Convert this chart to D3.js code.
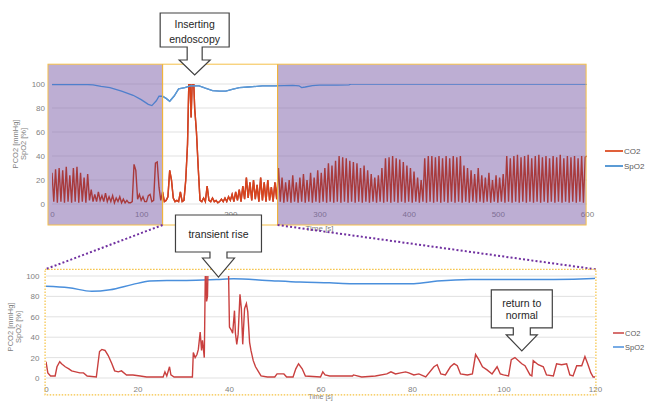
<!DOCTYPE html>
<html>
<head>
<meta charset="utf-8">
<script src="https://cdn.jsdelivr.net/npm/d3@7"></script>
<style>
body { margin: 0; background: #fff; }
svg { font-family: "Liberation Sans", Arial, sans-serif; }
.axis text { fill: #7f7f7f; font-size: 8px; }
.title { fill: #7f7f7f; font-size: 7.5px; }
.legend text { fill: #595959; font-size: 8px; }
.callout text { fill: #262626; font-size: 10.5px; text-anchor: middle; }
</style>
</head>
<body>
<div id="chart"></div>
<script>
// ---- data ----
var yTicks = [0, 20, 40, 60, 80, 100];
var topXTicks = [0, 100, 200, 300, 400, 500, 600];
var botXTicks = [0, 20, 40, 60, 80, 100, 120];

// top chart, CO2 every 2 s from 0 to 600 s
var topCo2Step = 2;
var topCo2 = [
  26, 2, 29, 1, 30, 2, 28, 1, 31, 2,
  24, 1, 30, 2, 31, 1, 26, 2, 22, 1,
  25, 3, 12, 2, 8, 2, 10, 3, 7, 2,
  9, 2, 6, 2, 7, 1, 5, 2, 6, 1,
  4, 1, 3, 1, 1, 2, 33, 28, 4, 8,
  3, 6, 2, 2, 7, 8, 2, 3, 34, 35,
  14, 3, 10, 2, 3, 6, 28, 20, 5, 2,
  3, 2, 10, 2, 3, 20, 50, 120, 72, 120,
  80, 60, 30, 3, 2, 5, 2, 15, 3, 2,
  5, 2, 3, 1, 2, 4, 2, 5, 2, 6,
  3, 8, 2, 10, 3, 12, 2, 15, 4, 22,
  5, 18, 3, 20, 4, 16, 2, 22, 3, 18,
  2, 20, 3, 14, 2, 18, 4, 30, 2, 22,
  1, 18, 2, 20, 1, 24, 2, 18, 1, 22,
  2, 25, 1, 20, 2, 26, 1, 22, 2, 28,
  1, 26, 2, 30, 1, 34, 2, 32, 1, 36,
  2, 40, 1, 39, 2, 38, 1, 36, 2, 35,
  1, 34, 2, 30, 1, 32, 2, 28, 1, 25,
  2, 22, 1, 24, 2, 30, 1, 38, 2, 39,
  1, 40, 2, 38, 1, 37, 2, 35, 1, 32,
  2, 30, 1, 27, 2, 22, 1, 20, 2, 38,
  1, 40, 2, 40, 1, 39, 2, 40, 1, 38,
  2, 40, 1, 38, 2, 40, 1, 39, 2, 40,
  1, 32, 2, 30, 1, 28, 2, 25, 1, 30,
  2, 24, 1, 22, 2, 26, 1, 20, 2, 24,
  1, 22, 2, 25, 1, 40, 2, 38, 1, 40,
  2, 41, 1, 39, 2, 40, 1, 41, 2, 38,
  1, 40, 2, 41, 1, 39, 2, 40, 1, 38,
  2, 40, 1, 39, 2, 41, 1, 38, 2, 40,
  1, 39, 2, 40, 1, 38, 2, 40, 1, 39,
  40
];

var topSpo2Time = [0, 20, 40, 46, 55, 65, 78, 91, 100, 108, 112, 117, 120, 124, 128, 132, 137, 142, 149, 155, 165, 172, 180, 188, 195, 202, 210, 220, 236, 250, 270, 277, 280, 284, 292, 300, 320, 333, 336, 400, 500, 600];
var topSpo2Val = [99.5, 99.5, 99.5, 99.3, 98, 97, 94, 90.6, 87, 83, 82, 86, 89.8, 89.8, 88, 85.6, 90, 96, 97, 98.5, 98.4, 96.5, 94.5, 94, 94, 95.5, 97, 97.5, 98.4, 98.5, 98.8, 98.5, 97, 97.5, 98.7, 99, 99, 99.2, 100, 100, 100, 100];

// bottom chart (0-120 s zoom), CO2 as [time, value]
var botCo2 = [
  [0, 16], [0.4, 5], [1, 2], [2, 2], [2.4, 11], [3, 16], [3.4, 14], [4.2, 11], [5, 9], [5.6, 7],
  [6.5, 6], [7.4, 5], [8.2, 5], [9, 2], [11, 1], [11.7, 26], [12.2, 28], [12.9, 27], [13.6, 22], [14.4, 14],
  [15, 7], [15.8, 6], [16.5, 7], [17.6, 3], [19, 3], [20.6, 2], [22, 1], [25.6, 1], [26, 6], [26.4, 2],
  [27, 11], [27.3, 3], [28, 1], [31.5, 1], [32, 1], [32.2, 25], [32.6, 20], [33, 23], [33.3, 28], [33.7, 45],
  [34, 27], [34.2, 37], [34.6, 20], [34.9, 130], [35.1, 75], [35.3, 80], [35.5, 130], [39.8, 130], [40.1, 50], [40.5, 47],
  [40.8, 44], [41.2, 66], [41.4, 44], [41.7, 33], [42, 43], [42.4, 82], [42.7, 68], [43, 33], [43.4, 68], [43.8, 73],
  [44.1, 65], [44.5, 35], [44.8, 27], [45.3, 17], [45.8, 11], [46.6, 5], [47, 2], [48.4, 1], [50, 1], [50.5, 4],
  [52, 4], [52.6, 1], [54, 1], [54.6, 9], [55.2, 14], [56, 9], [56.7, 2], [60, 1], [60.5, 6], [61, 3],
  [62, 2], [67, 2], [67.2, 3], [69, 1], [72, 2], [74.5, 4], [75.4, 6], [76.4, 4], [77.5, 5], [78.6, 6],
  [79.3, 5], [80.4, 3], [81.5, 4], [83, 1], [84.8, 11], [85.5, 13], [86.3, 4], [87.3, 3], [88.4, 11], [89.2, 14],
  [89.9, 12], [90.6, 4], [92.1, 3], [93.2, 4], [93.9, 23], [94.6, 18], [95.4, 11], [96.4, 8], [97.5, 4], [98.6, 11],
  [99.3, 4], [100, 3], [101.1, 2], [101.7, 18], [102.5, 20], [104, 14], [104.7, 12], [105.8, 3], [106.2, 2], [106.5, 17],
  [107.6, 13], [108.7, 11], [109.4, 3], [110.9, 2], [111.6, 14], [112.7, 13], [113.8, 14], [114.5, 3], [115.2, 2], [116, 12],
  [117.1, 12], [117.8, 21], [118.4, 14], [119.1, 5], [119.6, 1], [120, 1]
];

var botSpo2Time = [0, 5, 10, 14, 19, 22.7, 26.4, 30.7, 37.3, 41, 48.2, 55.5, 62, 67, 74.5, 80.4, 85.5, 92.8, 100, 111, 119.6, 120];
var botSpo2Val = [90, 88.5, 85, 86.5, 91.8, 95, 95.7, 95.7, 96.6, 97.3, 95.7, 94, 93.3, 92.5, 92.5, 92.5, 95, 96.6, 96.6, 96.6, 97.6, 97.8];

// shaded (purple) and highlighted (white) time ranges on the top chart
var shadeRanges = [[-4.5, 124], [253, 599]];
var whiteRange = [124, 253];

var callouts = [
  { chart: 'top', t: 160, v: 107.5, lines: ['Inserting', 'endoscopy'] },
  { chart: 'bot', t: 37.7, v: 99, lines: ['transient rise'] },
  { chart: 'bot', t: 104, v: 26.5, lines: ['return to', 'normal'] }
];

// ---- setup ----
var width = 645, height = 401;

var svg = d3.select('#chart').append('svg')
  .attr('width', width)
  .attr('height', height);

var defs = svg.append('defs');

var xTop = d3.scaleLinear().domain([0, 600]).range([52, 587]);
var yTop = d3.scaleLinear().domain([0, 100]).range([204, 84]);
var xBot = d3.scaleLinear().domain([0, 120]).range([46, 595]);
var yBot = d3.scaleLinear().domain([0, 100]).range([378, 276]);

function clipRect(id, x0, x1, y0, y1) {
  defs.append('clipPath').attr('id', id)
    .append('rect')
    .attr('x', x0).attr('y', y0)
    .attr('width', x1 - x0).attr('height', y1 - y0);
}

clipRect('topClip', xTop(0), xTop(600), yTop(100), yTop(-10));
clipRect('topWhite', xTop(whiteRange[0]), xTop(whiteRange[1]), yTop(100), yTop(-10));
clipRect('botClip', xBot(0), xBot(120), yBot(100), yBot(-10));

var topCo2Data = topCo2.map((v, i) => [i * topCo2Step, v]);
var topSpo2Data = topSpo2Time.map((t, i) => [t, topSpo2Val[i]]);
var botSpo2Data = botSpo2Time.map((t, i) => [t, botSpo2Val[i]]);

///////////////////////////////////////////////////////////////
// top chart
///////////////////////////////////////////////////////////////

var topG = svg.append('g');

topG.selectAll('.grid')
  .data(yTicks)
  .enter()
  .append('line')
  .attr('x1', xTop(0)).attr('x2', xTop(600))
  .attr('y1', d => yTop(d)).attr('y2', d => yTop(d))
  .attr('stroke', '#d9d9d9')
  .attr('stroke-width', 0.8);

var yAxisTop = topG.append('g')
  .attr('class', 'axis')
  .attr('transform', 'translate(' + xTop(0) + ',0)')
  .call(d3.axisLeft(yTop).tickValues(yTicks).tickSize(0).tickPadding(7));
yAxisTop.select('.domain').remove();

var xAxisTop = topG.append('g')
  .attr('class', 'axis')
  .attr('transform', 'translate(0,' + yTop(0) + ')')
  .call(d3.axisBottom(xTop).tickValues(topXTicks).tickSize(0).tickPadding(7.5));
xAxisTop.select('.domain').remove();

topG.append('text')
  .attr('class', 'title')
  .attr('x', xTop(300)).attr('y', 231)
  .attr('text-anchor', 'middle')
  .style('font-size', '8px')
  .text('Time [s]');

topG.append('text')
  .attr('class', 'title')
  .attr('transform', 'translate(18,' + yTop(50) + ') rotate(-90)')
  .attr('text-anchor', 'middle')
  .text('PCO2 [mmHg]');
topG.append('text')
  .attr('class', 'title')
  .attr('transform', 'translate(26,' + yTop(50) + ') rotate(-90)')
  .attr('text-anchor', 'middle')
  .text('SpO2 [%]');

// purple overlays
topG.selectAll('.shade')
  .data(shadeRanges)
  .enter()
  .append('rect')
  .attr('x', d => xTop(d[0]))
  .attr('width', d => xTop(d[1]) - xTop(d[0]))
  .attr('y', yTop(116.5))
  .attr('height', yTop(-17.5) - yTop(116.5))
  .attr('fill', '#7b5ea7')
  .attr('fill-opacity', 0.5);

var lineTop = d3.line().x(d => xTop(d[0])).y(d => yTop(d[1]));

// lines: muted colour under purple, bright colour in the white window
topG.append('path').datum(topCo2Data)
  .attr('d', lineTop).attr('clip-path', 'url(#topClip)')
  .attr('fill', 'none').attr('stroke', '#a83a3c').attr('stroke-width', 1.4);
topG.append('path').datum(topCo2Data)
  .attr('d', lineTop).attr('clip-path', 'url(#topWhite)')
  .attr('fill', 'none').attr('stroke', '#d9431b').attr('stroke-width', 1.4);
topG.append('path').datum(topSpo2Data)
  .attr('d', lineTop).attr('clip-path', 'url(#topClip)')
  .attr('fill', 'none').attr('stroke', '#4f7fcc').attr('stroke-width', 1.3);
topG.append('path').datum(topSpo2Data)
  .attr('d', lineTop).attr('clip-path', 'url(#topWhite)')
  .attr('fill', 'none').attr('stroke', '#5b9bd5').attr('stroke-width', 1.3);

// yellow frame
topG.append('rect')
  .attr('x', xTop(-4.5)).attr('y', yTop(116.5))
  .attr('width', xTop(599) - xTop(-4.5))
  .attr('height', yTop(-17.5) - yTop(116.5))
  .attr('fill', 'none').attr('stroke', '#f5c04a').attr('stroke-width', 1);
topG.selectAll('.divider')
  .data(whiteRange)
  .enter()
  .append('line')
  .attr('x1', d => xTop(d)).attr('x2', d => xTop(d))
  .attr('y1', yTop(116.5)).attr('y2', yTop(-17.5))
  .attr('stroke', '#f0b43c').attr('stroke-width', 1.2);

// legend
var topLegend = svg.append('g').attr('class', 'legend');
[['CO2', '#e0603a', 151], ['SpO2', '#5b9bd5', 166]].forEach(d => {
  topLegend.append('line')
    .attr('x1', 605).attr('x2', 623).attr('y1', d[2]).attr('y2', d[2])
    .attr('stroke', d[1]).attr('stroke-width', 2);
  topLegend.append('text').attr('x', 624).attr('y', d[2] + 3).text(d[0]);
});

///////////////////////////////////////////////////////////////
// connectors
///////////////////////////////////////////////////////////////

var connectors = [
  [xTop(whiteRange[0]), yTop(-17.5), xBot(-0.2), yBot(106.5)],
  [xTop(whiteRange[1]), yTop(-17.5), xBot(120.2), yBot(106.5)]
];
svg.selectAll('.connector')
  .data(connectors)
  .enter()
  .append('line')
  .attr('x1', d => d[0]).attr('y1', d => d[1])
  .attr('x2', d => d[2]).attr('y2', d => d[3])
  .attr('stroke', '#7030a0').attr('stroke-width', 2)
  .attr('stroke-dasharray', '2,2.2');

///////////////////////////////////////////////////////////////
// bottom chart
///////////////////////////////////////////////////////////////

var botG = svg.append('g');

botG.selectAll('.grid')
  .data(yTicks)
  .enter()
  .append('line')
  .attr('x1', xBot(0)).attr('x2', xBot(120))
  .attr('y1', d => yBot(d)).attr('y2', d => yBot(d))
  .attr('stroke', '#d9d9d9')
  .attr('stroke-width', 0.8);

var yAxisBot = botG.append('g')
  .attr('class', 'axis')
  .attr('transform', 'translate(' + xBot(0) + ',0)')
  .call(d3.axisLeft(yBot).tickValues(yTicks).tickSize(0).tickPadding(6.5));
yAxisBot.select('.domain').remove();

var xAxisBot = botG.append('g')
  .attr('class', 'axis')
  .attr('transform', 'translate(0,' + yBot(0) + ')')
  .call(d3.axisBottom(xBot).tickValues(botXTicks).tickSize(0).tickPadding(8.5));
xAxisBot.select('.domain').remove();

botG.append('text')
  .attr('class', 'title')
  .attr('x', xBot(60)).attr('y', 399)
  .attr('text-anchor', 'middle')
  .style('font-size', '7px')
  .text('Time [s]');

botG.append('text')
  .attr('class', 'title')
  .attr('transform', 'translate(13,' + yBot(50) + ') rotate(-90)')
  .attr('text-anchor', 'middle')
  .text('PCO2 [mmHg]');
botG.append('text')
  .attr('class', 'title')
  .attr('transform', 'translate(21,' + yBot(50) + ') rotate(-90)')
  .attr('text-anchor', 'middle')
  .text('SpO2 [%]');

var lineBot = d3.line().x(d => xBot(d[0])).y(d => yBot(d[1]));

botG.append('path').datum(botSpo2Data)
  .attr('d', lineBot.curve(d3.curveMonotoneX))
  .attr('clip-path', 'url(#botClip)')
  .attr('fill', 'none').attr('stroke', '#4a8fdc').attr('stroke-width', 1.5);
lineBot.curve(d3.curveLinear);
botG.append('path').datum(botCo2)
  .attr('d', lineBot)
  .attr('clip-path', 'url(#botClip)')
  .attr('fill', 'none').attr('stroke', '#c9403f').attr('stroke-width', 1.4);

botG.append('rect')
  .attr('x', xBot(-0.2)).attr('y', yBot(106.5))
  .attr('width', xBot(120.2) - xBot(-0.2))
  .attr('height', yBot(-16.5) - yBot(106.5))
  .attr('fill', 'none').attr('stroke', '#f5c242').attr('stroke-width', 1.2)
  .attr('stroke-dasharray', '1.5,1.5');

var botLegend = svg.append('g').attr('class', 'legend');
[['CO2', '#c9403f', 333], ['SpO2', '#4a8fdc', 347]].forEach(d => {
  botLegend.append('line')
    .attr('x1', 613).attr('x2', 624).attr('y1', d[2]).attr('y2', d[2])
    .attr('stroke', d[1]).attr('stroke-width', 1.5);
  botLegend.append('text').attr('x', 625).attr('y', d[2] + 3)
    .style('font-size', '7.5px').text(d[0]);
});

///////////////////////////////////////////////////////////////
// callouts (down arrow boxes)
///////////////////////////////////////////////////////////////

var calloutShape = [
  { boxW: 69, boxH: 34, stemW: 15, stemH: 13, headW: 31, headH: 15, base: [15, 30] },
  { boxW: 86, boxH: 37, stemW: 17, stemH: 6, headW: 32, headH: 19, base: [23] },
  { boxW: 61, boxH: 38, stemW: 17, stemH: 7, headW: 31, headH: 16, base: [17, 29] }
];

callouts.forEach((c, i) => {
  var s = calloutShape[i];
  var tx = c.chart === 'top' ? xTop(c.t) : xBot(c.t);
  var ty = c.chart === 'top' ? yTop(c.v) : yBot(c.v);
  var headTop = ty - s.headH;
  var boxBottom = headTop - s.stemH;
  var boxTop = boxBottom - s.boxH;
  var p = d3.path();
  p.moveTo(tx - s.boxW / 2, boxTop);
  p.lineTo(tx + s.boxW / 2, boxTop);
  p.lineTo(tx + s.boxW / 2, boxBottom);
  p.lineTo(tx + s.stemW / 2, boxBottom);
  p.lineTo(tx + s.stemW / 2, headTop);
  p.lineTo(tx + s.headW / 2, headTop);
  p.lineTo(tx, ty);
  p.lineTo(tx - s.headW / 2, headTop);
  p.lineTo(tx - s.stemW / 2, headTop);
  p.lineTo(tx - s.stemW / 2, boxBottom);
  p.lineTo(tx - s.boxW / 2, boxBottom);
  p.closePath();
  var g = svg.append('g').attr('class', 'callout');
  g.append('path').attr('d', p.toString())
    .attr('fill', '#fff').attr('stroke', '#404040').attr('stroke-width', 1.2)
    .attr('stroke-linejoin', 'miter');
  c.lines.forEach((l, j) => {
    g.append('text').attr('x', tx).attr('y', boxTop + s.base[j]).text(l);
  });
});
</script>
</body>
</html>
